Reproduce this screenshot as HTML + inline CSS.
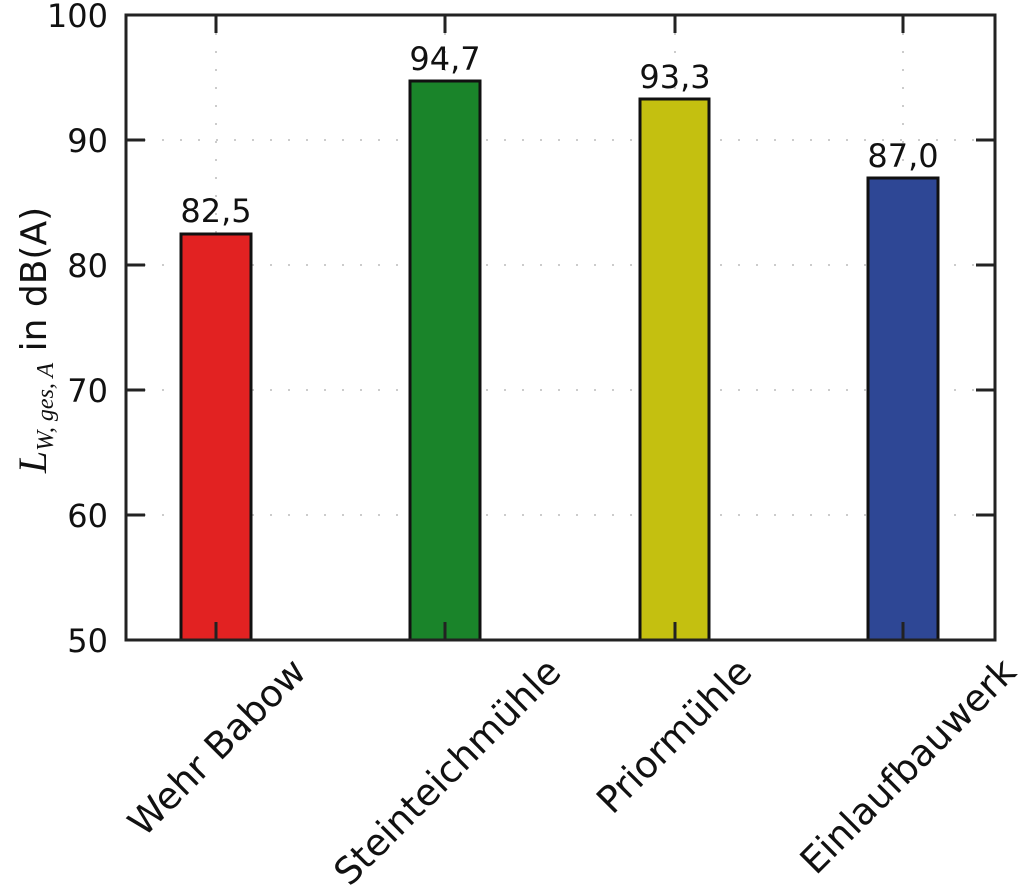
<!DOCTYPE html>
<html><head><style>body{margin:0;background:#fff}svg{display:block}</style></head>
<body>
<svg width="1024" height="895" viewBox="0 0 1024 895" xmlns="http://www.w3.org/2000/svg" font-family="'DejaVu Sans','Liberation Sans',sans-serif">
<rect width="1024" height="895" fill="#fff"/>
<g stroke="#ccc" stroke-width="2" stroke-dasharray="2,16">
<line x1="126" y1="140" x2="995" y2="140"/><line x1="126" y1="265" x2="995" y2="265"/>
<line x1="126" y1="390" x2="995" y2="390"/><line x1="126" y1="515" x2="995" y2="515"/>
<line x1="216" y1="15" x2="216" y2="640"/><line x1="445" y1="15" x2="445" y2="640"/>
<line x1="675" y1="15" x2="675" y2="640"/><line x1="903" y1="15" x2="903" y2="640"/>
</g>
<g stroke="#111" stroke-width="3">
<rect x="181" y="234" width="70" height="406" fill="#e22222"/>
<rect x="410" y="81" width="70" height="559" fill="#1a842a"/>
<rect x="640" y="99" width="69" height="541" fill="#c4c010"/>
<rect x="868" y="178" width="70" height="462" fill="#2e4795"/>
</g>
<g stroke="#222" stroke-width="3">
<rect x="126" y="15" width="869" height="625" fill="none"/>
<line x1="126" y1="140" x2="145" y2="140"/><line x1="126" y1="265" x2="145" y2="265"/><line x1="126" y1="390" x2="145" y2="390"/><line x1="126" y1="515" x2="145" y2="515"/>
<line x1="995" y1="140" x2="976" y2="140"/><line x1="995" y1="265" x2="976" y2="265"/><line x1="995" y1="390" x2="976" y2="390"/><line x1="995" y1="515" x2="976" y2="515"/>
<line x1="216" y1="15" x2="216" y2="33"/><line x1="445" y1="15" x2="445" y2="33"/><line x1="675" y1="15" x2="675" y2="33"/><line x1="903" y1="15" x2="903" y2="33"/>
<line x1="216" y1="640" x2="216" y2="622"/><line x1="445" y1="640" x2="445" y2="622"/><line x1="675" y1="640" x2="675" y2="622"/><line x1="903" y1="640" x2="903" y2="622"/>
</g>
<g font-size="32" fill="#111" text-anchor="end">
<text x="108" y="27">100</text><text x="108" y="152">90</text><text x="108" y="277">80</text>
<text x="108" y="402">70</text><text x="108" y="527">60</text><text x="108" y="652">50</text>
</g>
<g font-size="32" fill="#111" text-anchor="middle">
<text x="216" y="222">82,5</text><text x="445" y="70">94,7</text><text x="675" y="88">93,3</text><text x="903" y="167">87,0</text>
</g>
<g font-size="37" fill="#111" text-anchor="end">
<text transform="translate(308,674) rotate(-45)">Wehr Babow</text>
<text transform="translate(563,674) rotate(-45)">Steinteichmühle</text>
<text transform="translate(754,674) rotate(-45)">Priormühle</text>
<text transform="translate(1018,674) rotate(-45)">Einlaufbauwerk</text>
</g>
<text transform="translate(46,340) rotate(-90)" text-anchor="middle" font-size="36" fill="#111"><tspan font-family="'Liberation Serif',serif" font-style="italic" font-size="40">L</tspan><tspan font-family="'Liberation Serif',serif" font-style="italic" font-size="24" dy="7">W, ges, A</tspan><tspan dy="-7"> in dB(A)</tspan></text>
</svg>
</body></html>
